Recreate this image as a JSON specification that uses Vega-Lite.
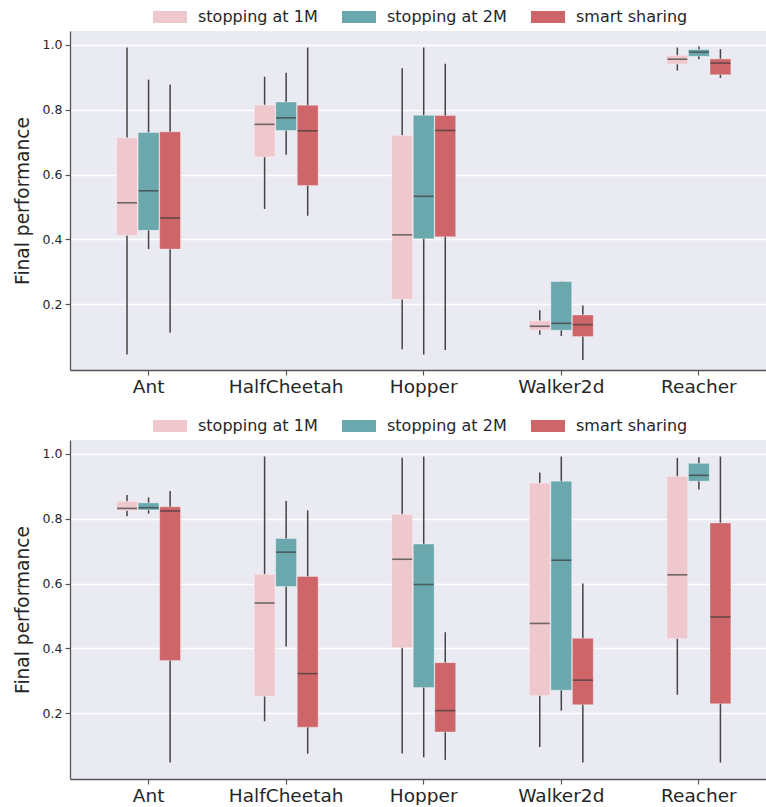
{
  "$schema": "https://vega.github.io/schema/vega-lite/v6.json",
  "padding": {"left": 13, "top": 0, "right": 0, "bottom": 0},
  "background": "white",
  "datasets": {
    "top": [
      {"env": "Ant", "method": "stopping at 1M", "min": 0.045, "q1": 0.412, "median": 0.513, "q3": 0.714, "max": 0.992},
      {"env": "Ant", "method": "stopping at 2M", "min": 0.370, "q1": 0.428, "median": 0.550, "q3": 0.730, "max": 0.893},
      {"env": "Ant", "method": "smart sharing", "min": 0.112, "q1": 0.370, "median": 0.466, "q3": 0.732, "max": 0.878},
      {"env": "HalfCheetah", "method": "stopping at 1M", "min": 0.494, "q1": 0.654, "median": 0.755, "q3": 0.815, "max": 0.902},
      {"env": "HalfCheetah", "method": "stopping at 2M", "min": 0.661, "q1": 0.736, "median": 0.775, "q3": 0.824, "max": 0.914},
      {"env": "HalfCheetah", "method": "smart sharing", "min": 0.473, "q1": 0.566, "median": 0.735, "q3": 0.814, "max": 0.992},
      {"env": "Hopper", "method": "stopping at 1M", "min": 0.061, "q1": 0.215, "median": 0.414, "q3": 0.721, "max": 0.928},
      {"env": "Hopper", "method": "stopping at 2M", "min": 0.045, "q1": 0.402, "median": 0.533, "q3": 0.783, "max": 0.992},
      {"env": "Hopper", "method": "smart sharing", "min": 0.059, "q1": 0.408, "median": 0.736, "q3": 0.782, "max": 0.942},
      {"env": "Walker2d", "method": "stopping at 1M", "min": 0.106, "q1": 0.120, "median": 0.132, "q3": 0.149, "max": 0.181},
      {"env": "Walker2d", "method": "stopping at 2M", "min": 0.102, "q1": 0.120, "median": 0.141, "q3": 0.270, "max": 0.270},
      {"env": "Walker2d", "method": "smart sharing", "min": 0.028, "q1": 0.100, "median": 0.137, "q3": 0.167, "max": 0.196},
      {"env": "Reacher", "method": "stopping at 1M", "min": 0.921, "q1": 0.941, "median": 0.956, "q3": 0.968, "max": 0.992},
      {"env": "Reacher", "method": "stopping at 2M", "min": 0.956, "q1": 0.965, "median": 0.978, "q3": 0.986, "max": 0.995},
      {"env": "Reacher", "method": "smart sharing", "min": 0.898, "q1": 0.908, "median": 0.944, "q3": 0.957, "max": 0.987}
    ],
    "bottom": [
      {"env": "Ant", "method": "stopping at 1M", "min": 0.808, "q1": 0.825, "median": 0.832, "q3": 0.854, "max": 0.873},
      {"env": "Ant", "method": "stopping at 2M", "min": 0.816, "q1": 0.827, "median": 0.834, "q3": 0.849, "max": 0.866},
      {"env": "Ant", "method": "smart sharing", "min": 0.048, "q1": 0.363, "median": 0.824, "q3": 0.837, "max": 0.886},
      {"env": "HalfCheetah", "method": "stopping at 1M", "min": 0.175, "q1": 0.252, "median": 0.540, "q3": 0.629, "max": 0.992},
      {"env": "HalfCheetah", "method": "stopping at 2M", "min": 0.406, "q1": 0.591, "median": 0.697, "q3": 0.739, "max": 0.855},
      {"env": "HalfCheetah", "method": "smart sharing", "min": 0.075, "q1": 0.157, "median": 0.322, "q3": 0.622, "max": 0.826},
      {"env": "Hopper", "method": "stopping at 1M", "min": 0.076, "q1": 0.402, "median": 0.675, "q3": 0.814, "max": 0.988},
      {"env": "Hopper", "method": "stopping at 2M", "min": 0.064, "q1": 0.279, "median": 0.597, "q3": 0.722, "max": 0.992},
      {"env": "Hopper", "method": "smart sharing", "min": 0.056, "q1": 0.142, "median": 0.208, "q3": 0.356, "max": 0.450},
      {"env": "Walker2d", "method": "stopping at 1M", "min": 0.096, "q1": 0.254, "median": 0.477, "q3": 0.910, "max": 0.943},
      {"env": "Walker2d", "method": "stopping at 2M", "min": 0.208, "q1": 0.271, "median": 0.672, "q3": 0.916, "max": 0.992},
      {"env": "Walker2d", "method": "smart sharing", "min": 0.048, "q1": 0.226, "median": 0.302, "q3": 0.431, "max": 0.600},
      {"env": "Reacher", "method": "stopping at 1M", "min": 0.257, "q1": 0.430, "median": 0.627, "q3": 0.931, "max": 0.988},
      {"env": "Reacher", "method": "stopping at 2M", "min": 0.890, "q1": 0.916, "median": 0.934, "q3": 0.971, "max": 0.990},
      {"env": "Reacher", "method": "smart sharing", "min": 0.048, "q1": 0.229, "median": 0.497, "q3": 0.787, "max": 0.992}
    ]
  },
  "config": {
    "font": "DejaVu Sans",
    "view": {"fill": "#EAEAF2", "stroke": null},
    "axis": {"labelColor": "#262626", "titleColor": "#262626", "domainColor": "#555555", "tickColor": "#555555", "domainWidth": 1.3, "tickWidth": 1.2}
  },
  "spacing": 70,
  "bounds": "flush",
  "resolve": {"scale": {"color": "independent", "x": "independent", "y": "independent"}, "legend": {"color": "independent"}},
  "vconcat": [
    {
      "width": 696, "height": 339,
      "data": {"name": "top"},
      "encoding": {
        "x": {"field": "env", "type": "nominal", "sort": ["Ant", "HalfCheetah", "Hopper", "Walker2d", "Reacher"],
          "scale": {"paddingInner": 0.535, "paddingOuter": 0.297, "align": 0.57},
          "axis": {"title": null, "labelAngle": 0, "labelFontSize": 18.5, "tickSize": 5, "labelPadding": 2, "grid": false}},
        "xOffset": {"field": "method", "type": "nominal", "sort": ["stopping at 1M", "stopping at 2M", "smart sharing"], "scale": {"paddingInner": 0.03, "paddingOuter": 0}}
      },
      "layer": [
        {"mark": {"type": "rule", "color": "#444444", "strokeWidth": 1.5},
          "encoding": {
            "y": {"field": "min", "type": "quantitative", "title": "Final performance",
              "scale": {"domain": [-0.003, 1.043], "nice": false, "zero": false},
              "axis": {"values": [0.2, 0.4, 0.6, 0.8, 1.0], "format": ".1f", "labelFontSize": 12.5, "tickSize": 5, "labelPadding": 3, "gridColor": "white", "gridWidth": 1.3, "titleFontSize": 18.6, "titleFontWeight": "normal", "titlePadding": 10}},
            "y2": {"field": "max"}}},
        {"mark": {"type": "bar", "stroke": "white", "strokeOpacity": 0.35, "strokeWidth": 1},
          "encoding": {
            "y": {"field": "q1", "type": "quantitative", "title": "Final performance"},
            "y2": {"field": "q3"},
            "color": {"field": "method", "type": "nominal",
              "scale": {"domain": ["stopping at 1M", "stopping at 2M", "smart sharing"], "range": ["#EFC8CE", "#6AA8AE", "#CD6569"]},
              "legend": {"title": null, "orient": "none", "legendX": 83, "legendY": -31, "direction": "horizontal", "symbolType": "M-1,-0.35H1V0.35H-1Z", "symbolSize": 1156, "symbolStrokeWidth": 0, "symbolOpacity": 1, "labelFontSize": 16, "labelOffset": 11, "columnPadding": 24, "labelColor": "#262626"}}}},
        {"mark": {"type": "tick", "color": "#3a3a3a", "thickness": 1.6, "size": 20},
          "encoding": {"y": {"field": "median", "type": "quantitative", "title": "Final performance"}}}
      ]
    },
    {
      "width": 696, "height": 339,
      "data": {"name": "bottom"},
      "encoding": {
        "x": {"field": "env", "type": "nominal", "sort": ["Ant", "HalfCheetah", "Hopper", "Walker2d", "Reacher"],
          "scale": {"paddingInner": 0.535, "paddingOuter": 0.297, "align": 0.57},
          "axis": {"title": null, "labelAngle": 0, "labelFontSize": 18.5, "tickSize": 5, "labelPadding": 2, "grid": false}},
        "xOffset": {"field": "method", "type": "nominal", "sort": ["stopping at 1M", "stopping at 2M", "smart sharing"], "scale": {"paddingInner": 0.03, "paddingOuter": 0}}
      },
      "layer": [
        {"mark": {"type": "rule", "color": "#444444", "strokeWidth": 1.5},
          "encoding": {
            "y": {"field": "min", "type": "quantitative", "title": "Final performance",
              "scale": {"domain": [-0.003, 1.043], "nice": false, "zero": false},
              "axis": {"values": [0.2, 0.4, 0.6, 0.8, 1.0], "format": ".1f", "labelFontSize": 12.5, "tickSize": 5, "labelPadding": 3, "gridColor": "white", "gridWidth": 1.3, "titleFontSize": 18.6, "titleFontWeight": "normal", "titlePadding": 10}},
            "y2": {"field": "max"}}},
        {"mark": {"type": "bar", "stroke": "white", "strokeOpacity": 0.35, "strokeWidth": 1},
          "encoding": {
            "y": {"field": "q1", "type": "quantitative", "title": "Final performance"},
            "y2": {"field": "q3"},
            "color": {"field": "method", "type": "nominal",
              "scale": {"domain": ["stopping at 1M", "stopping at 2M", "smart sharing"], "range": ["#EFC8CE", "#6AA8AE", "#CD6569"]},
              "legend": {"title": null, "orient": "none", "legendX": 83, "legendY": -31, "direction": "horizontal", "symbolType": "M-1,-0.35H1V0.35H-1Z", "symbolSize": 1156, "symbolStrokeWidth": 0, "symbolOpacity": 1, "labelFontSize": 16, "labelOffset": 11, "columnPadding": 24, "labelColor": "#262626"}}}},
        {"mark": {"type": "tick", "color": "#3a3a3a", "thickness": 1.6, "size": 20},
          "encoding": {"y": {"field": "median", "type": "quantitative", "title": "Final performance"}}}
      ]
    }
  ]
}
